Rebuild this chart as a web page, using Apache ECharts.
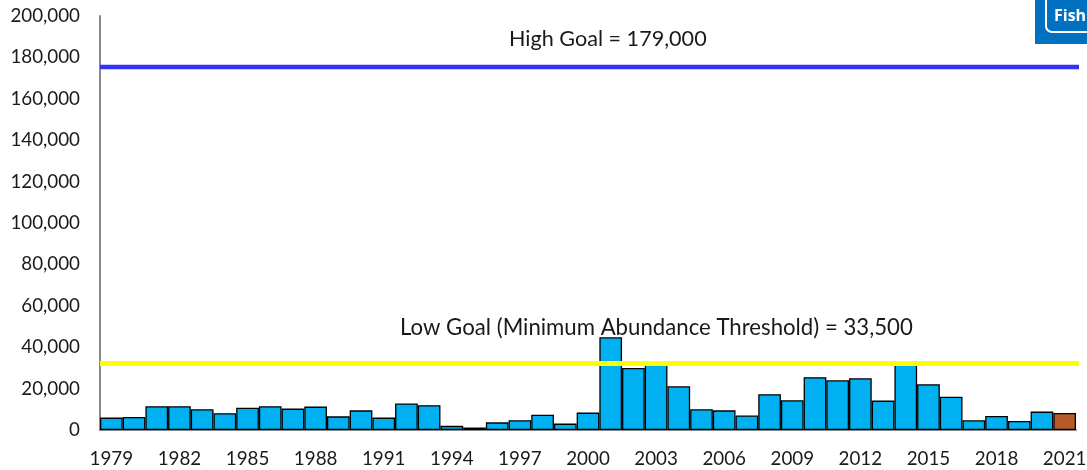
<!DOCTYPE html>
<html><head><meta charset="utf-8">
<style>html,body{margin:0;padding:0;background:#fff}#c{width:1087px;height:470px}</style>
<script src="https://cdn.jsdelivr.net/npm/echarts@6/dist/echarts.min.js"></script>
</head><body><div id="c"></div>
<script>
const years=[1979,1980,1981,1982,1983,1984,1985,1986,1987,1988,1989,1990,1991,1992,1993,1994,1995,1996,1997,1998,1999,2000,2001,2002,2003,2004,2005,2006,2007,2008,2009,2010,2011,2012,2013,2014,2015,2016,2017,2018,2019,2020,2021];
const abundance=[6000,6300,11500,11500,10000,8100,10800,11500,10350,11300,6600,9500,6000,12800,12000,2000,1200,3700,4700,7400,3100,8400,44800,30000,31500,21100,10000,9500,7000,17300,14400,25500,24000,25000,14200,31500,22100,16100,4700,6800,4400,8900,8250];
const highGoalLine=175400, lowGoalLine=32100;
const highLabel='High Goal = 179,000', lowLabel='Low Goal (Minimum Abundance Threshold) = 33,500';
const font='Lato', textColor='#1a1a1a';
const chart=echarts.init(document.getElementById('c'),null,{renderer:'canvas'});
const yBase={type:'value',min:0,max:200000,interval:20000};
chart.setOption({
  animation:false,
  grid:[{left:100,right:11,top:16,bottom:40,outerBoundsMode:'none'},{left:100,right:8,top:16,bottom:40,outerBoundsMode:'none'}],
  xAxis:[
    {type:'category',data:years,gridIndex:0,
     axisLine:{lineStyle:{color:'#8a8a8a',width:2}},axisTick:{show:false},
     axisLabel:{interval:2,color:textColor,fontFamily:font,fontSize:18.8,margin:19,hideOverlap:false}},
    {type:'value',gridIndex:1,min:0,max:1,show:false}
  ],
  yAxis:[
    Object.assign({},yBase,{gridIndex:0,splitLine:{show:false},axisTick:{show:false},
      axisLine:{show:true,lineStyle:{color:'#8a8a8a',width:2}},
      axisLabel:{color:textColor,fontFamily:font,fontSize:18.8,margin:20,
        formatter:v=>v.toLocaleString('en-US')}}),
    Object.assign({},yBase,{gridIndex:1,show:false})
  ],
  series:[
    {type:'bar',xAxisIndex:0,yAxisIndex:0,barCategoryGap:0,z:2,
     data:abundance.map((v,i)=>({value:v,itemStyle:{color:i===abundance.length-1?'#B85A2B':'#00B0F0'}})),
     itemStyle:{borderColor:'#000',borderWidth:1.3}},
    {type:'line',xAxisIndex:1,yAxisIndex:1,z:5,symbol:'none',silent:true,
     data:[[0,highGoalLine],[1,highGoalLine]],lineStyle:{color:'#3333F5',width:4.5}},
    {type:'line',xAxisIndex:1,yAxisIndex:1,z:5,symbol:'none',silent:true,
     data:[[0,lowGoalLine],[1,lowGoalLine]],lineStyle:{color:'#FFFF00',width:5}}
  ],
  graphic:[
    {type:'text',left:509,top:28,z:10,style:{text:highLabel,fill:textColor,font:'21.6px Lato'}},
    {type:'text',left:400,top:317,z:10,style:{text:lowLabel,fill:textColor,font:'22.2px Lato'}},
    {type:'rect',z:10,shape:{x:1035,y:-2,width:60,height:46},style:{fill:'#0070C0'}},
    {type:'rect',z:11,shape:{x:1046,y:-6,width:50,height:38,r:6},style:{fill:'none',stroke:'#fff',lineWidth:2}},
    {type:'text',left:1054,top:8,z:12,style:{text:'Fish',fill:'#fff',font:'bold 16px "Open Sans"'}}
  ]
});
</script></body></html>
